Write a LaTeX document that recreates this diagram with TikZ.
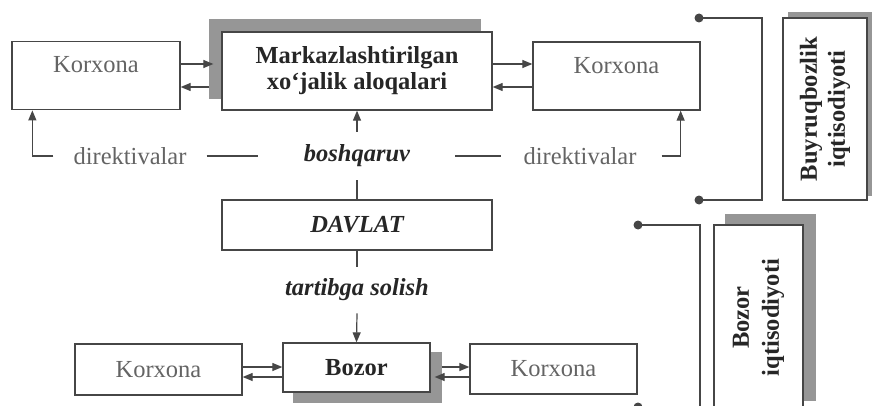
\documentclass[tikz,border=0pt]{standalone}
\usepackage{fontspec}
\setmainfont{Liberation Serif}
\usetikzlibrary{calc, arrows.meta, backgrounds}
\definecolor{inkgray}{RGB}{70,70,70}
\definecolor{textgray}{RGB}{100,100,100}
\definecolor{shadegray}{RGB}{150,150,150}

\begin{document}
\begin{tikzpicture}[x=1pt, y=-1pt,
  every node/.style={font=\fontsize{24.5}{26}\selectfont},
  box/.style={draw=inkgray, line width=1.3pt, fill=white, inner sep=0pt, text=textgray},
  hbox/.style={box, text=black!85, font=\fontsize{24.5}{26}\selectfont\bfseries, align=center},
  lbl/.style={inner sep=2pt, text=textgray},
  blbl/.style={lbl, text=black!85, font=\fontsize{24.5}{26}\selectfont\bfseries\itshape},
  ln/.style={draw=inkgray, line width=1.2pt},
  arr/.style={-{Triangle[length=10pt, width=8pt]}, ln},
  dot/.style={fill=inkgray}
]
\useasboundingbox (0,0) rectangle (872,406);
\clip (0,0) rectangle (872,406);
% boxes
\node[box, minimum width=168pt, text height=31.5pt, text depth=37pt] (korTL) at (96,75.5) {Korxona};
\node[box, minimum width=167pt, text height=31.5pt, text depth=36.5pt] (korTR) at (616.5,76) {Korxona};
\node[hbox, minimum width=270pt, minimum height=78pt] (mk) at (357,71)
  {Markazlashtirilgan\\xo‘jalik aloqalari};
\node[hbox, font=\fontsize{24.5}{26}\selectfont\bfseries\itshape, minimum width=270pt, minimum height=50pt] (dv) at (357,225) {DAVLAT};
\node[hbox, minimum width=147pt, minimum height=49pt] (bz) at (356.5,367.5) {Bozor};
\node[box, minimum width=167pt, minimum height=51pt] (korBL) at (158.5,369.5) {Korxona};
\node[box, minimum width=167pt, minimum height=50pt] (korBR) at (553.5,369) {Korxona};
\node[hbox, rotate=90, font=\fontsize{24.5}{28}\selectfont\bfseries, minimum width=182pt, minimum height=84pt] (buy) at (825,109)
  {Buyruqbozlik\\iqtisodiyoti};
\node[hbox, rotate=90, font=\fontsize{24.5}{30}\selectfont\bfseries, minimum width=185pt, minimum height=89pt] (biq) at (758.5,317.5)
  {Bozor\\iqtisodiyoti};
% labels
\node[lbl] (dlL) at (130,156) {direktivalar};
\node[blbl, inner ysep=13pt] (bq) at (357,156) {boshqaruv};
\node[lbl] (dlR) at (580,156) {direktivalar};
\node[blbl, inner ysep=12pt] (ts) at (357,290) {tartibga solish};
% arrow rows
\coordinate (rowA) at (0,64);
\coordinate (rowB) at (0,87);
\coordinate (rowC) at (0,367);
\coordinate (rowD) at (0,377);
\draw[arr, shorten >=8pt] (korTL.east |- rowA) -- (mk.west |- rowA);
\draw[arr, shorten <=12pt] (mk.west |- rowB) -- (korTL.east |- rowB);
\draw[arr] (mk.east |- rowA) -- (korTR.west |- rowA);
\draw[arr] (korTR.west |- rowB) -- (mk.east |- rowB);
\draw[arr] (korBL.east |- rowC) -- (bz.west |- rowC);
\draw[arr] (bz.west |- rowD) -- (korBL.east |- rowD);
\draw[arr, shorten <=11pt] (bz.east |- rowC) -- (korBR.west |- rowC);
\draw[arr, shorten >=4pt] (korBR.west |- rowD) -- (bz.east |- rowD);
% state links
\draw[ln] (dv.north) -- (bq.south);
\draw[arr] (bq.north) -- (mk.south);
\draw[ln] (dv.south) -- (ts.north);
\draw[arr] (ts.south) -- (bz.north);
\draw[arr, shorten <=18pt] (dlL.west) -| ([xshift=21pt]korTL.south west);
\draw[arr, shorten <=23pt] (dlR.east) -| ([xshift=-20pt]korTR.south east);
\draw[ln, shorten <=18pt, shorten >=44pt] (dlL.east) -- (bq.west);
\draw[ln, shorten <=43pt, shorten >=20pt] (bq.east) -- (dlR.west);
% brackets
\coordinate (buyA) at (699,18);
\coordinate (buyB) at (699,200);
\draw[ln] (buyA) -- ++(63,0) |- (buyB);
\fill[dot] (buyA) circle (4.5pt);
\fill[dot] (buyB) circle (4.5pt);
\coordinate (bzA) at (638,225);
\coordinate (bzB) at (638,407);
\draw[ln] (bzA) -- ++(62,0) |- (bzB);
\fill[dot] (bzA) circle (4.5pt);
\fill[dot] (bzB) circle (4.5pt);
% shadows
\begin{scope}[on background layer]
\clip (0,0) rectangle (872,406);
\fill[shadegray] ($(mk.south west)+(-12,-12)$) rectangle ($(mk.north east)+(-12,-12)$);
\fill[shadegray] ($(bz.south west)+(11,10)$) rectangle ($(bz.north east)+(11,10)$);
\fill[shadegray] ($(buy.south west)+(6,-5)$) rectangle ($(buy.north east)+(6,-5)$);
\fill[shadegray] ($(biq.south west)+(12,-10)$) rectangle ($(biq.north east)+(12,-10)$);
\end{scope}
\end{tikzpicture}
\end{document}
